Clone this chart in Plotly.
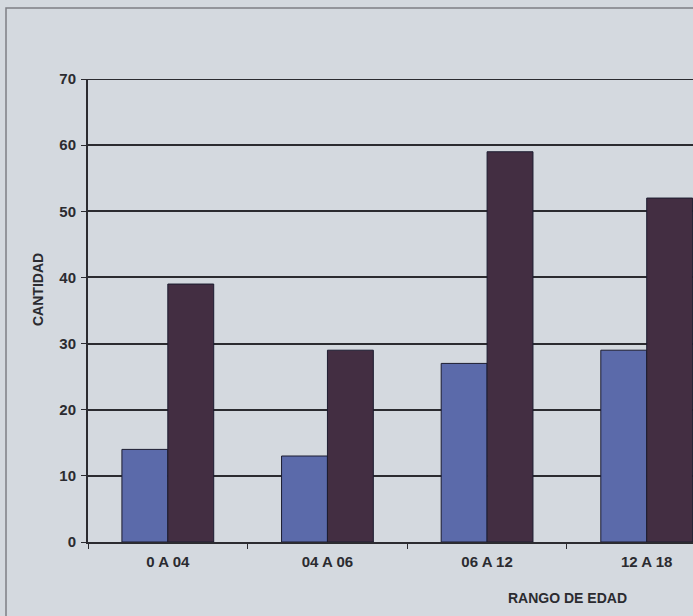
import plotly.graph_objects as go

categories = ["0 A 04", "04 A 06", "06 A 12", "12 A 18"]
serie_a = [14, 13, 27, 29]
serie_b = [39, 29, 59, 52]

W, H = 693, 616
ml, mr, mt, mb = 88, 0, 79, 616 - 542
pw, ph = W - ml - mr, H - mt - mb

bg = "#d4d9df"
ink = "#2b2b30"
tfont = dict(size=15, family="Liberation Sans, Arial", weight="bold", color=ink)

fig = go.Figure()
fig.add_trace(go.Bar(x=categories, y=serie_a, name="A",
                     marker=dict(color="#5b6aaa", line=dict(color="#1c1c30", width=1))))
fig.add_trace(go.Bar(x=categories, y=serie_b, name="B",
                     marker=dict(color="#432e42", line=dict(color="#1c1c30", width=1))))

fig.update_layout(
    width=W, height=H,
    margin=dict(l=ml, r=mr, t=mt, b=mb, pad=0),
    paper_bgcolor=bg, plot_bgcolor=bg,
    barmode="group", bargap=0.425, bargroupgap=0,
    showlegend=False,
    font=dict(family="Liberation Sans, Arial", size=14, color=ink),
)
fig.update_yaxes(
    range=[0, 70], tickvals=[0, 10, 20, 30, 40, 50, 60, 70],
    showgrid=True, gridcolor=ink, gridwidth=1.6,
    zeroline=False, showline=True, linecolor=ink, linewidth=2,
    ticks="outside", ticklen=5, tickcolor=ink, ticklabelstandoff=2,
    tickfont=tfont,
)
fig.update_xaxes(
    range=[-0.5, 3.29], showline=True, linecolor=ink, linewidth=2,
    ticks="outside", ticklen=5, tickcolor=ink, tickson="boundaries",
    tickfont=tfont, ticklabelstandoff=5,
)

# top gridline at 70 sits on the plot edge, draw it explicitly
fig.add_shape(type="line", xref="paper", yref="y", x0=0, x1=1, y0=70, y1=70,
              line=dict(color=ink, width=2))

# axis titles as annotations to place them like the original
fig.add_annotation(text="<b>CANTIDAD</b>", textangle=-90, xref="paper", yref="paper",
                   x=(38 - ml) / pw, y=1 - (290 - mt) / ph, showarrow=False,
                   xanchor="center", yanchor="middle", font=dict(size=14, color=ink))
fig.add_annotation(text="<b>RANGO DE EDAD</b>", xref="paper", yref="paper",
                   x=(567 - ml) / pw, y=1 - (598 - mt) / ph, showarrow=False,
                   xanchor="center", yanchor="middle", font=dict(size=14, color=ink))

# outer chart border from the photographed page
fig.add_shape(type="rect", xref="paper", yref="paper",
              x0=(6 - ml) / pw, x1=(720 - ml) / pw,
              y0=1 - (640 - mt) / ph, y1=1 + (mt - 8) / ph,
              line=dict(color="#7d7f85", width=1.5), layer="below")

# drop the default page margin so the figure fills the window
fig.write_html("out.html", config={"displayModeBar": False},
               post_script="document.body.style.margin='0';")
